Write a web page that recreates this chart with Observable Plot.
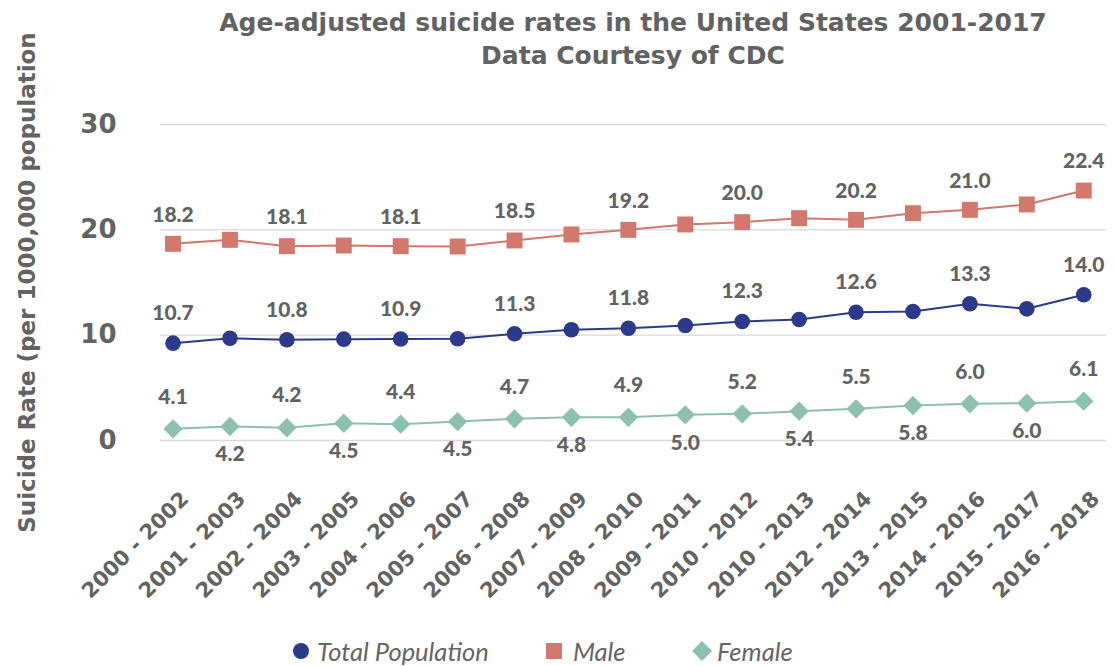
<!DOCTYPE html>
<html>
<head>
<meta charset="utf-8">
<script src="https://cdn.jsdelivr.net/npm/d3@7"></script>
<script src="https://cdn.jsdelivr.net/npm/@observablehq/plot@0.6"></script>
<style>
  html, body { margin: 0; padding: 0; background: #fff; }
  #wrap { position: relative; width: 1116px; height: 666px; overflow: hidden; }
  #chart { position: absolute; left: 0; top: 0; }
  #title { position: absolute; left: 160px; width: 946px; top: 6px; text-align: center; z-index: 2;
           font-family: "DejaVu Sans", sans-serif; font-weight: 700; font-size: 25px; line-height: 33px; color: #626262; }
  .leg { position: absolute; top: 636px; height: 30px; font-family: "Lato", sans-serif; font-style: italic;
         font-size: 25.5px; color: #666; line-height: 30px; white-space: nowrap; }
  .leg svg { position: absolute; top: 0; }
</style>
</head>
<body>
<div id="wrap">
  <div id="chart"></div>
  <div id="title">Age-adjusted suicide rates in the United States 2001-2017<br>Data Courtesy of CDC</div>
  <div id="legend"></div>
</div>
<script>
// Categories (x tick labels, as printed on the chart)
const categories = ["2000 - 2002","2001 - 2003","2002 - 2004","2003 - 2005","2004 - 2006","2005 - 2007",
  "2006 - 2008","2007 - 2009","2008 - 2010","2009 - 2011","2010 - 2012","2010 - 2013","2012 - 2014",
  "2013 - 2015","2014 - 2016","2015 - 2017","2016 - 2018"];

// Plotted values (as drawn)
const totalValues  = [9.24, 9.71, 9.56, 9.62, 9.64, 9.66, 10.13, 10.51, 10.66, 10.92, 11.3, 11.49, 12.18, 12.25, 12.98, 12.5, 13.83];
const maleValues   = [18.67, 19.05, 18.45, 18.51, 18.45, 18.42, 18.99, 19.56, 20.0, 20.51, 20.73, 21.11, 20.95, 21.58, 21.9, 22.41, 23.73];
const femaleValues = [1.11, 1.33, 1.21, 1.64, 1.55, 1.8, 2.06, 2.21, 2.21, 2.44, 2.53, 2.78, 3.01, 3.32, 3.48, 3.54, 3.73];

// Data labels printed on the chart (null = no label)
const totalLabels  = [10.7, null, 10.8, null, 10.9, null, 11.3, null, 11.8, null, 12.3, null, 12.6, null, 13.3, null, 14.0];
const maleLabels   = [18.2, null, 18.1, null, 18.1, null, 18.5, null, 19.2, null, 20.0, null, 20.2, null, 21.0, null, 22.4];
const femaleLabels = [4.1, 4.2, 4.2, 4.5, 4.4, 4.5, 4.7, 4.8, 4.9, 5.0, 5.2, 5.4, 5.5, 5.8, 6.0, 6.0, 6.1];

const yTicks = [0, 10, 20, 30];
const yTitle = "Suicide Rate (per 1000,000 population";
const seriesNames = ["Total Population", "Male", "Female"];
const colors = {"Total Population": "#2c3a8c", "Male": "#d2786c", "Female": "#8cc1b2"};

const rows = categories.map((c, i) => ({
  i, c,
  total: totalValues[i], male: maleValues[i], female: femaleValues[i],
  tl: totalLabels[i], ml: maleLabels[i], fl: femaleLabels[i]
}));

const gray = "#636363";
const labelFont = {fontFamily: "Lato, sans-serif", fontWeight: 900, fontSize: 21, fill: gray};
const boldFont = {fontFamily: "DejaVu Sans, sans-serif", fontWeight: "bold", fill: gray};

const chart = Plot.plot({
  width: 1116, height: 620,
  marginLeft: 160, marginRight: 10, marginTop: 124, marginBottom: 180,
  x: {type: "linear", domain: [-0.22, 16.4]},
  y: {domain: [0, 30]},
  marks: [
    Plot.gridY(yTicks, {stroke: "#d9d9d9", strokeOpacity: 1, strokeWidth: 1.3}),
    Plot.axisY(yTicks, {tickSize: 0, tickPadding: 44, fontSize: 26, ...boldFont, label: null}),
    Plot.axisX({ticks: [], label: null}),
    Plot.text(rows, {x: "i", frameAnchor: "bottom", text: "c", rotate: -45, textAnchor: "end",
      lineAnchor: "middle", dy: 55, dx: 12, fontSize: 21, ...boldFont}),
    Plot.text([yTitle], {frameAnchor: "left", text: d => d, rotate: -90, textAnchor: "middle",
      lineAnchor: "middle", dx: -133, fontSize: 23, ...boldFont}),

    Plot.line(rows, {x: "i", y: "male", stroke: colors["Male"], strokeWidth: 2}),
    Plot.line(rows, {x: "i", y: "total", stroke: colors["Total Population"], strokeWidth: 2}),
    Plot.line(rows, {x: "i", y: "female", stroke: colors["Female"], strokeWidth: 2}),

    Plot.dot(rows, {x: "i", y: "male", symbol: "square", r: 9, fill: colors["Male"], stroke: "none"}),
    Plot.dot(rows, {x: "i", y: "total", symbol: "circle", r: 7.8, fill: colors["Total Population"], stroke: "none"}),
    Plot.dot(rows, {x: "i", y: "female", symbol: "diamond2", r: 8.7, fill: colors["Female"], stroke: "none"}),

    Plot.text(rows.filter(d => d.ml != null), {x: "i", y: "male", text: d => d.ml.toFixed(1), dy: -29, ...labelFont}),
    Plot.text(rows.filter(d => d.tl != null), {x: "i", y: "total", text: d => d.tl.toFixed(1), dy: -30, ...labelFont}),
    Plot.text(rows.filter(d => d.i % 2 === 0), {x: "i", y: "female", text: d => d.fl.toFixed(1), dy: -32, ...labelFont}),
    Plot.text(rows.filter(d => d.i % 2 === 1), {x: "i", y: "female", text: d => d.fl.toFixed(1), dy: 28, ...labelFont})
  ]
});
document.getElementById("chart").appendChild(chart);

// Legend
const legend = document.getElementById("legend");
const legendItems = [
  {name: seriesNames[0], sym: "circle", cx: 301, tx: 317},
  {name: seriesNames[1], sym: "square", cx: 554, tx: 573},
  {name: seriesNames[2], sym: "diamond", cx: 702, tx: 717}
];
for (const it of legendItems) {
  const c = colors[it.name];
  let shape;
  if (it.sym === "circle") shape = `<circle cx="10" cy="15" r="8" fill="${c}"/>`;
  else if (it.sym === "square") shape = `<rect x="2" y="7" width="16" height="16" fill="${c}"/>`;
  else shape = `<path d="M10,5 L20,15 L10,25 L0,15 Z" fill="${c}"/>`;
  const sym = document.createElement("div");
  sym.className = "leg";
  sym.style.left = (it.cx - 10) + "px";
  sym.innerHTML = `<svg width="20" height="30">${shape}</svg>`;
  legend.appendChild(sym);
  const t = document.createElement("div");
  t.className = "leg";
  t.style.left = it.tx + "px";
  t.textContent = it.name;
  legend.appendChild(t);
}
</script>
</body>
</html>
